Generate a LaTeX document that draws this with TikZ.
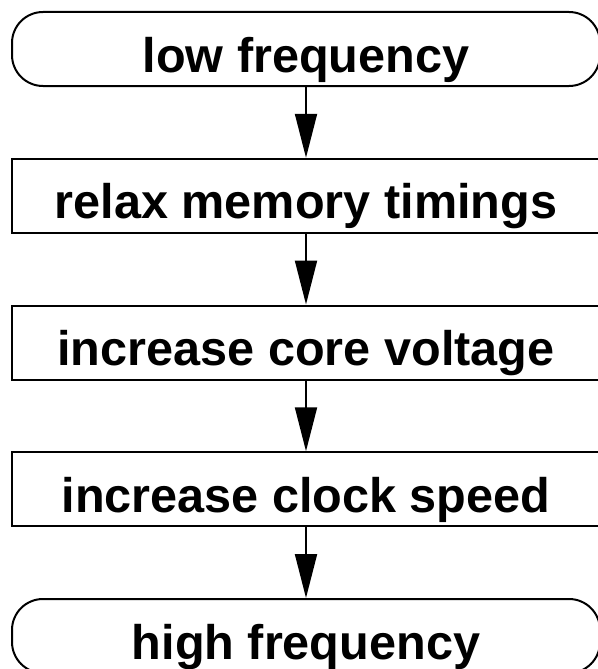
\documentclass[tikz,border=0pt]{standalone}
\usepackage{fontspec}
\setmainfont{Liberation Sans}
\usetikzlibrary{arrows.meta}
\begin{document}
\begin{tikzpicture}[x=1pt,y=-1pt,
  box/.style={draw,line width=2pt,minimum width=588pt,minimum height=74pt,
    inner sep=0pt,text height=60pt,text depth=14pt,
    font=\fontsize{48.6}{58}\selectfont\bfseries},
  term/.style={box,rounded corners=31pt},
  flow/.style={line width=2pt,-{Triangle[length=44pt,width=22pt]}}]
\useasboundingbox (0,0) rectangle (597,669);
\node[term] (n1) at (306,49) {low frequency};
\node[box] (n2) at (306,195.75) {relax memory timings};
\node[box] (n3) at (306,342.5) {increase core voltage};
\node[box] (n4) at (306,489.25) {increase clock speed};
\node[term] (n5) at (306,636) {high frequency};
\draw[flow] (n1) -- (n2);
\draw[flow] (n2) -- (n3);
\draw[flow] (n3) -- (n4);
\draw[flow] (n4) -- (n5);
\end{tikzpicture}
\end{document}
